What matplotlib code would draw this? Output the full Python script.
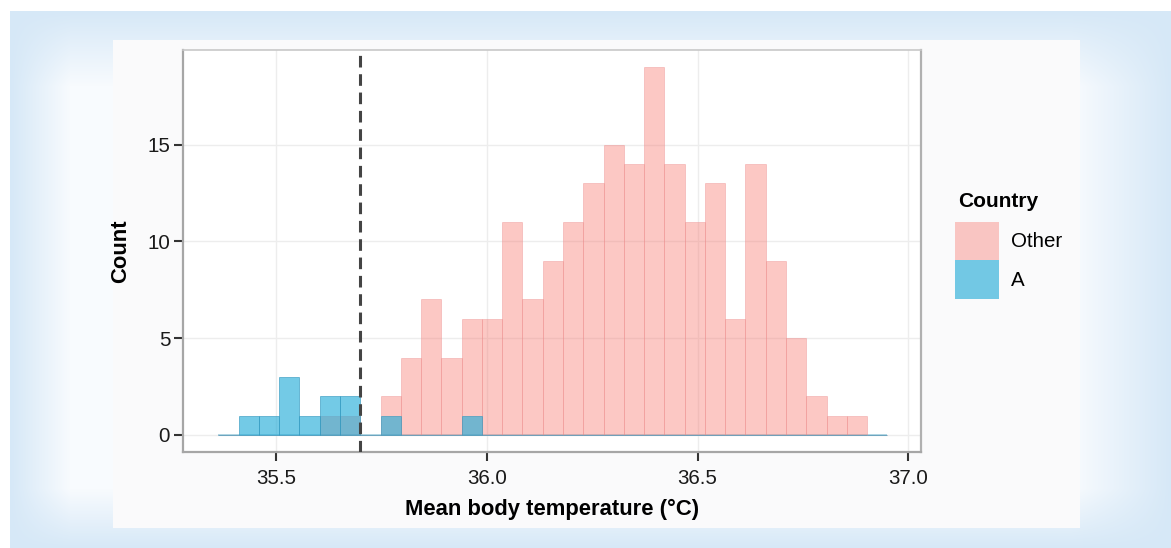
import numpy as np
import matplotlib
matplotlib.use("Agg")
import matplotlib.pyplot as plt
from matplotlib.patches import Patch

plt.rcParams['font.family'] = ['Liberation Sans', 'DejaVu Sans']

# histogram data (counts per bin)
bin_start = 35.363
bin_width = 0.0481
count_other = [0, 0, 0, 0, 0, 1, 1, 0, 2, 4, 7, 4, 6, 6, 11, 7, 9,
               11, 13, 15, 14, 19, 14, 11, 13, 6, 14, 9, 5, 2, 1, 1, 0]
count_a = [0, 1, 1, 3, 1, 2, 2, 0, 1, 0, 0, 0, 1, 0, 0, 0, 0,
           0, 0, 0, 0, 0, 0, 0, 0, 0, 0, 0, 0, 0, 0, 0, 0]
cutoff = 35.7
groups = ['Other', 'A']
x_ticks = [35.5, 36.0, 36.5, 37.0]
y_ticks = [0, 5, 10, 15]

pink = '#F8766D'
blue = '#1EAAD7'

W, H = 1171, 548
fig = plt.figure(figsize=(W / 100, H / 100), dpi=100)

# background: light blue frame fading into a near white panel
bg = fig.add_axes([0, 0, 1, 1])
bg.set_axis_off()
yy, xx = np.mgrid[0:H, 0:W]
tl = np.clip((xx - 10) / 60.0, 0, 1)
tt = np.clip((yy - 11) / 75.0, 0, 1)
tr = np.clip((W - xx) / 100.0, 0, 1)
tb = np.clip((H - yy) / 60.0, 0, 1)
t = (tl * tt * tr * tb)[..., None]
edge_c = np.array([214, 232, 247]) / 255.0
mid_c = np.array([248, 251, 254]) / 255.0
img = edge_c * (1 - t) + mid_c * t
outside = (xx < 10) | (yy < 11)
img[outside] = 1.0
inner = (xx >= 113) & (xx < 1080) & (yy >= 40) & (yy < 528)
img[inner] = np.array([250, 250, 251]) / 255.0
bg.imshow(img, extent=[0, 1, 0, 1], aspect='auto', interpolation='bilinear')
bg.set_xlim(0, 1)
bg.set_ylim(0, 1)

ax = fig.add_axes([183 / W, 1 - 451.7 / H, (921 - 183) / W, (451.7 - 50) / H])
ax.set_facecolor('white')

n = len(count_other)
lefts = bin_start + bin_width * np.arange(n)

# zero line of the histogram
ax.hlines(0, lefts[0], lefts[-1] + bin_width, color='#a4cfdf', lw=1.2, zorder=2)

ax.bar(lefts, count_other, width=bin_width, align='edge', color=pink, alpha=0.4,
       edgecolor=(0.93, 0.55, 0.55, 0.2), linewidth=0.7, zorder=3)
ax.bar(lefts, count_a, width=bin_width, align='edge', color=blue, alpha=0.62,
       edgecolor=(0.2, 0.6, 0.75, 0.2), linewidth=0.7, zorder=4)

ax.axvline(cutoff, color='#444444', lw=2.2, dashes=(3.8, 2.2), zorder=5)

ax.set_xlim(35.279, 37.03)
ax.set_ylim(-0.87, 19.9)
ax.set_xticks(x_ticks)
ax.set_xticklabels(['%.1f' % v for v in x_ticks])
ax.set_yticks(y_ticks)
ax.grid(True, color='#ededed', lw=1.0, zorder=0)
ax.set_axisbelow(True)

for s in ax.spines.values():
    s.set_color('#a6a6a6')
    s.set_linewidth(1.6)
ax.spines['top'].set_color('#c8c8c8')
ax.spines['top'].set_linewidth(1.2)
ax.spines['right'].set_color('#b0b0b0')

ax.tick_params(axis='both', colors='#333333', labelcolor='#1a1a1a',
               labelsize=14.8, length=6.2, width=1.5)
ax.tick_params(axis='x', pad=6)
ax.tick_params(axis='y', pad=3)

ax.set_xlabel('Mean body temperature (°C)', fontsize=15.8, fontweight='bold', labelpad=8)
ax.set_ylabel('Count', fontsize=15.8, fontweight='bold', labelpad=12)

# legend
fig.text(958 / W, 1 - 202 / H, 'Country', fontsize=15, fontweight='bold',
         ha='left', va='center')
handles = [Patch(facecolor=pink, alpha=0.4, edgecolor='none'),
           Patch(facecolor=blue, alpha=0.62, edgecolor='none')]
leg = fig.legend(handles, groups, loc='upper left', bbox_to_anchor=(955 / W, 1 - 222 / H),
                 frameon=False, fontsize=14.8, borderpad=0,
                 handlelength=2.15, handleheight=2.5, labelspacing=0.0,
                 handletextpad=0.55, borderaxespad=0)

fig.savefig('out.png', dpi=100)
